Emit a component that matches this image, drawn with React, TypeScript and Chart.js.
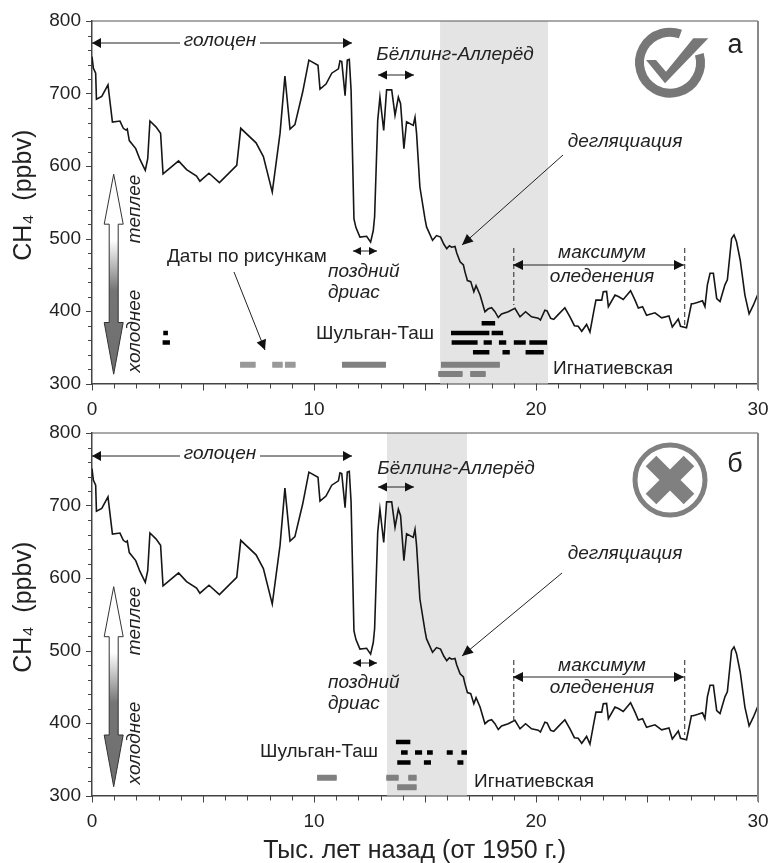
import React, { useEffect, useRef } from "react";
import { Chart, registerables } from "chart.js";

Chart.register(...registerables);

const ages = [0,0.06,0.165,0.2,0.44,0.72,0.92,1.26,1.41,1.53,1.59,1.68,1.97,2.16,2.4,2.51,2.61,2.88,3.09,3.2,3.9,4.26,4.71,4.86,5.27,5.74,6.52,6.7,7.39,7.72,8.12,8.47,8.69,8.92,9.14,9.49,9.77,10.18,10.27,10.54,10.8,11.1,11.17,11.25,11.4,11.5,11.59,11.67,11.8,11.89,12.07,12.37,12.55,12.67,12.73,12.87,12.97,13.14,13.27,13.5,13.65,13.8,13.9,14.05,14.17,14.47,14.55,14.62,14.77,15.0,15.07,15.34,15.52,15.7,15.85,15.98,16.1,16.2,16.35,16.43,16.58,16.73,16.8,16.91,17.06,17.2,17.3,17.48,17.7,17.85,18.0,18.15,18.3,18.45,18.75,19.05,19.28,19.53,19.8,20.1,20.2,20.4,20.5,20.66,20.8,21.0,21.3,21.53,21.73,21.9,22.06,22.28,22.43,22.61,22.7,22.96,23.03,23.18,23.26,23.56,23.71,23.93,24.26,24.46,24.61,24.8,24.98,25.36,25.66,25.99,26.14,26.41,26.51,26.78,27.0,27.08,27.3,27.5,27.61,27.72,27.84,27.99,28.14,28.29,28.51,28.62,28.81,28.92,29.03,29.2,29.41,29.6,29.79,29.98];
const ch4 = [751,735,728,692,696,712,660.5,662,652,649.5,651,635,624,609,594,610,662,654,645,589,607,595,586,579,590,577,601,652,632,613,564,645,724,651,657,702,746,739,706,713,728,734,745,744,697,746,747,705,527,515,502,503,495,511,530,663,695,649,705,705,670,695,686,624,661,656,667,645,571,527,516,497.5,504,502,492,486,490,488,489,480,468,463.5,454,442,440.5,426.6,435,422,399,403,404.5,399,391,396,399,403.6,392,399,392,390,387.5,401,400,390,388.4,395,404.5,392,379.7,379,372,381.5,371,401,415,415,426.5,427,406,422,420,416,428,415,404,406,394,397.5,390.6,393,378,389,379,377,410,410,412,414,406,436,452,452,417,413,436,443,500,505,496,470,422,396,408,422];

// [start, end, ch4 level] of the date bars
const topBlack = [[3.21,3.42,369.5],[3.18,3.51,356.5],[17.55,18.16,383],[16.17,17.9,369.5],[18.0,18.52,369.5],[16.2,17.37,356.5],[17.64,18.01,356.5],[18.33,18.66,356.5],[19.0,19.54,356.5],[19.7,20.5,356.5],[17.16,17.9,343],[18.49,18.82,343],[19.53,20.35,343]];
const topLight = [[6.67,7.37,326],[8.12,8.59,326],[8.69,9.17,326]];
const topGray = [[11.26,13.24,326],[15.72,18.37,326],[15.6,16.69,313],[17.04,17.73,313]];
const bottomBlack = [[13.69,14.34,373.7],[13.92,14.22,359.4],[14.55,14.87,359.4],[15.09,15.35,359.4],[15.98,16.25,359.4],[16.64,16.89,359.4],[13.75,14.35,345.4],[14.95,15.27,345.4],[16.46,16.73,345.4]];
const bottomGray = [[10.14,11.02,324.4],[13.26,13.81,324.4],[14.25,14.62,324.4],[13.75,14.62,311.5]];

const topBand = [15.68, 20.54];
const bottomBand = [13.29, 16.89];
const lgmRange = [19, 26.7];

const xLabels = [0, 10, 20, 30];
const yMajor = 100;
const xTitle = "Тыс. лет назад (от 1950 г.)\u00a0\u00a0\u00a0";
const yTitle = "\u00a0\u00a0CH₄  (ppbv)";

const FONT = '"Liberation Sans", Arial, sans-serif';
const INK = "#222222";

type Ctx = CanvasRenderingContext2D;

function segs(list: number[][]) {
  const pts: any[] = [];
  list.forEach(([a, b, y]) => {
    pts.push({ x: a, y }, { x: b, y }, { x: b, y: null });
  });
  return pts;
}
function barSet(list: number[][], color: string, w: number) {
  return { type: "line", data: segs(list), borderColor: color, borderWidth: w, borderCapStyle: "butt", pointRadius: 0, spanGaps: false, tension: 0 } as any;
}

function text(c: Ctx, s: string, x: number, y: number, size: number, italic = true, align: CanvasTextAlign = "center", rot = 0) {
  c.save();
  c.translate(x, y);
  if (rot) c.rotate(rot);
  c.font = `${italic ? "italic " : ""}${size}px ${FONT}`;
  c.fillStyle = INK;
  c.textAlign = align;
  c.textBaseline = "middle";
  c.fillText(s, 0, 0);
  c.restore();
}
function head(c: Ctx, x: number, y: number, ang: number, len: number, half: number) {
  c.save();
  c.translate(x, y);
  c.rotate(ang);
  c.beginPath();
  c.moveTo(0, 0);
  c.lineTo(-len, -half);
  c.lineTo(-len, half);
  c.closePath();
  c.fillStyle = "#111";
  c.fill();
  c.restore();
}
function arrow(c: Ctx, x1: number, y1: number, x2: number, y2: number, both = false, len = 10, half = 5) {
  c.strokeStyle = "#222";
  c.lineWidth = 1;
  c.setLineDash([]);
  c.beginPath();
  c.moveTo(x1, y1);
  c.lineTo(x2, y2);
  c.stroke();
  const a = Math.atan2(y2 - y1, x2 - x1);
  head(c, x2, y2, a, len, half);
  if (both) head(c, x1, y1, a + Math.PI, len, half);
}
function dashed(c: Ctx, x: number, y1: number, y2: number) {
  c.save();
  c.strokeStyle = "#222";
  c.lineWidth = 1;
  c.setLineDash([5, 3]);
  c.beginPath();
  c.moveTo(x, y1);
  c.lineTo(x, y2);
  c.stroke();
  c.restore();
}
function climateArrow(c: Ctx, off: number) {
  const cx = 113.7, tip = 586.7 + off, b1 = 636.7 + off, b2 = 735 + off, end = 786.7 + off;
  const g = c.createLinearGradient(0, tip, 0, end);
  g.addColorStop(0, "#ffffff");
  g.addColorStop(0.33, "#ffffff");
  g.addColorStop(0.58, "#757575");
  g.addColorStop(1, "#6e6e6e");
  c.beginPath();
  c.moveTo(cx, tip);
  c.lineTo(cx + 9.5, b1);
  c.lineTo(cx + 4.5, b1);
  c.lineTo(cx + 4.5, b2);
  c.lineTo(cx + 9.5, b2);
  c.lineTo(cx, end);
  c.lineTo(cx - 9.5, b2);
  c.lineTo(cx - 4.5, b2);
  c.lineTo(cx - 4.5, b1);
  c.lineTo(cx - 9.5, b1);
  c.closePath();
  c.fillStyle = g;
  c.fill();
  c.strokeStyle = "#333";
  c.lineWidth = 1;
  c.stroke();
}
function checkIcon(c: Ctx) {
  const cx = 670, cy = 62.7;
  c.strokeStyle = "#777";
  c.lineWidth = 9;
  c.beginPath();
  c.arc(cx, cy, 30.5, (-16 * Math.PI) / 180, (-70 * Math.PI) / 180);
  c.stroke();
  c.fillStyle = "#777";
  c.beginPath();
  c.moveTo(646, 60);
  c.lineTo(656, 60);
  c.lineTo(666, 71.7);
  c.lineTo(693.3, 38.3);
  c.lineTo(708.3, 38.3);
  c.lineTo(665, 83.3);
  c.closePath();
  c.fill();
}
function crossIcon(c: Ctx) {
  const cx = 670, cy = 480;
  c.strokeStyle = "#808080";
  c.lineWidth = 5;
  c.beginPath();
  c.arc(cx, cy, 35, 0, Math.PI * 2);
  c.stroke();
  c.lineWidth = 15;
  c.lineCap = "butt";
  c.beginPath();
  c.moveTo(cx - 19, cy - 19);
  c.lineTo(cx + 19, cy + 19);
  c.moveTo(cx + 19, cy - 19);
  c.lineTo(cx - 19, cy + 19);
  c.stroke();
}

function annotateTop(c: Ctx) {
  text(c, "голоцен", 220, 41, 19);
  arrow(c, 180, 43, 92, 43, false, 9, 5);
  arrow(c, 260, 43, 352, 43, false, 9, 5);
  text(c, "Бёллинг-Аллерёд", 455, 55, 19);
  arrow(c, 378, 75, 414, 75, true, 9, 4.5);
  text(c, "дегляциация", 625, 142, 19);
  arrow(c, 563, 155, 462, 245, false, 11, 5);
  arrow(c, 353, 251, 377, 251, true, 8, 4);
  text(c, "поздний", 328, 272, 19, true, "left");
  text(c, "дриас", 328, 293, 19, true, "left");
  text(c, "максимум", 602, 253, 19);
  text(c, "оледенения", 602, 277, 19);
  arrow(c, 513, 265, 684, 265, true, 10, 5);
  text(c, "Даты по рисункам", 167, 257, 19, false, "left");
  arrow(c, 234, 272, 265, 350, false, 10, 5);
  text(c, "Шульган-Таш", 316, 334, 19, false, "left");
  text(c, "Игнатиевская", 553, 369, 19, false, "left");
  text(c, "а", 735, 46, 27, false);
  text(c, "теплее", 135, 209, 19, true, "center", -Math.PI / 2);
  text(c, "холоднее", 135, 331, 19, true, "center", -Math.PI / 2);
  climateArrow(c, -412.5);
  checkIcon(c);
}
function annotateBottom(c: Ctx) {
  text(c, "голоцен", 220, 454, 19);
  arrow(c, 180, 456, 92, 456, false, 9, 5);
  arrow(c, 260, 456, 352, 456, false, 9, 5);
  text(c, "Бёллинг-Аллерёд", 456, 469, 19);
  arrow(c, 378, 487, 414, 487, true, 9, 4.5);
  text(c, "дегляциация", 625, 554, 19);
  arrow(c, 562, 573, 462, 656, false, 11, 5);
  arrow(c, 353, 663, 377, 663, true, 8, 4);
  text(c, "поздний", 328, 683, 19, true, "left");
  text(c, "дриас", 328, 704, 19, true, "left");
  text(c, "максимум", 602, 666, 19);
  text(c, "оледенения", 602, 688, 19);
  arrow(c, 513, 677, 684, 677, true, 10, 5);
  text(c, "Шульган-Таш", 260, 752, 19, false, "left");
  text(c, "Игнатиевская", 474, 782, 19, false, "left");
  text(c, "б", 735, 465, 27, false);
  text(c, "теплее", 135, 621, 19, true, "center", -Math.PI / 2);
  text(c, "холоднее", 135, 743, 19, true, "center", -Math.PI / 2);
  climateArrow(c, 0);
  crossIcon(c);
}

function makeChart(canvas: HTMLCanvasElement, cfg: any) {
  const panelPlugin = {
    id: "panel",
    beforeDatasetsDraw(chart: any) {
      const { ctx, chartArea: a, scales } = chart;
      ctx.save();
      ctx.fillStyle = "#e4e4e4";
      const x0 = scales.x.getPixelForValue(cfg.band[0]);
      const x1 = scales.x.getPixelForValue(cfg.band[1]);
      ctx.fillRect(x0, a.top, x1 - x0, a.bottom - a.top);
      ctx.restore();
    },
    afterDraw(chart: any) {
      const { ctx, chartArea: a, scales } = chart;
      ctx.save();
      // tick marks, from the scales' own ticks
      ctx.strokeStyle = "#444";
      ctx.lineWidth = 1;
      ctx.beginPath();
      scales.x.ticks.forEach((t: any, i: number) => {
        const p = Math.round(scales.x.getPixelForTick(i)) + 0.5;
        ctx.moveTo(p, a.bottom);
        ctx.lineTo(p, a.bottom + (t.value % 5 === 0 ? 7 : 5));
      });
      scales.y.ticks.forEach((t: any, i: number) => {
        const p = Math.round(scales.y.getPixelForTick(i)) + 0.5;
        ctx.moveTo(a.left, p);
        ctx.lineTo(a.left - (t.value % yMajor === 0 ? 6 : 4), p);
      });
      ctx.stroke();
      // frame
      ctx.strokeStyle = "#555";
      ctx.lineWidth = 1;
      ctx.beginPath();
      ctx.moveTo(a.left, a.top);
      ctx.lineTo(a.right, a.top);
      ctx.stroke();
      ctx.strokeStyle = "#888";
      ctx.lineWidth = 2;
      ctx.beginPath();
      ctx.moveTo(a.right, a.top);
      ctx.lineTo(a.right, a.bottom + 6);
      ctx.stroke();
      // dashed bounds of the glacial maximum
      const lx0 = scales.x.getPixelForValue(lgmRange[0]);
      const lx1 = scales.x.getPixelForValue(lgmRange[1]);
      ctx.translate(0, -cfg.top);
      dashed(ctx, lx0, cfg.dash[0], cfg.dash[1]);
      dashed(ctx, lx1, cfg.dash[2], cfg.dash[3]);
      cfg.annotate(ctx);
      ctx.restore();
    },
  };
  return new Chart(canvas, {
    type: "line",
    plugins: [panelPlugin],
    data: {
      datasets: [
        ...cfg.bars,
        { data: ages.map((x, i) => ({ x, y: ch4[i] })), borderColor: "#161616", borderWidth: 1.6, pointRadius: 0, tension: 0 },
      ],
    },
    options: {
      animation: false,
      responsive: false,
      layout: { padding: { top: cfg.padTop, right: 12, left: 0, bottom: 0 } },
      plugins: { legend: { display: false }, tooltip: { enabled: false }, title: { display: false } },
      scales: {
        x: {
          type: "linear",
          min: 0,
          max: 30,
          afterFit: (s: any) => { s.height = cfg.xHeight; s.paddingLeft = 0; s.paddingRight = 0; },
          grid: { display: false, drawTicks: false },
          border: { display: true, color: "#444", width: 1.5 },
          ticks: {
            stepSize: 1,
            autoSkip: false,
            maxRotation: 0,
            padding: 15,
            color: INK,
            font: { family: FONT, size: 19 },
            callback: (v: any) => (xLabels.includes(v) ? String(v) : ""),
          },
          title: cfg.showX
            ? { display: true, text: xTitle, color: INK, font: { family: FONT, size: 25 }, padding: { top: 0, bottom: 1 } }
            : { display: false },
        },
        y: {
          type: "linear",
          min: 300,
          max: 800,
          afterFit: (s: any) => { s.width = 92; s.paddingTop = 0; s.paddingBottom = 0; },
          grid: { display: false, drawTicks: false },
          border: { display: true, color: "#444", width: 1.5 },
          ticks: {
            stepSize: 20,
            autoSkip: false,
            padding: 11,
            color: INK,
            font: { family: FONT, size: 19 },
            callback: (v: any) => (v % yMajor === 0 ? String(v) : ""),
          },
          title: { display: true, text: yTitle, color: INK, font: { family: FONT, size: 25 }, padding: { top: 9, bottom: 0 } },
        },
      },
    },
  } as any);
}

export default function App() {
  const topRef = useRef<HTMLCanvasElement>(null);
  const botRef = useRef<HTMLCanvasElement>(null);
  useEffect(() => {
    const a = makeChart(topRef.current!, {
      top: 0,
      padTop: 21,
      xHeight: 38.5,
      showX: false,
      band: topBand,
      dash: [248, 305, 248, 326],
      annotate: annotateTop,
      bars: [
        barSet(topBlack, "#000000", 4.5),
        barSet(topLight, "#999999", 6),
        barSet(topLight, "#d4d4d4", 4),
        barSet(topGray, "#808080", 6),
        barSet(topGray, "#929292", 4),
      ],
    });
    const b = makeChart(botRef.current!, {
      top: 422,
      padTop: 11,
      xHeight: 71.5,
      showX: true,
      band: bottomBand,
      dash: [660, 720, 660, 735],
      annotate: annotateBottom,
      bars: [
        barSet(bottomBlack, "#000000", 4.5),
        barSet(bottomGray, "#808080", 6),
        barSet(bottomGray, "#999999", 4),
      ],
    });
    return () => {
      a.destroy();
      b.destroy();
    };
  }, []);
  return (
    <div style={{ position: "absolute", left: 0, top: 0, width: 770, height: 863, background: "#fff", overflow: "hidden" }}>
      <canvas ref={topRef} width={770} height={422} style={{ position: "absolute", left: 0, top: 0, display: "block" }} />
      <canvas ref={botRef} width={770} height={445} style={{ position: "absolute", left: 0, top: 422, display: "block" }} />
    </div>
  );
}
